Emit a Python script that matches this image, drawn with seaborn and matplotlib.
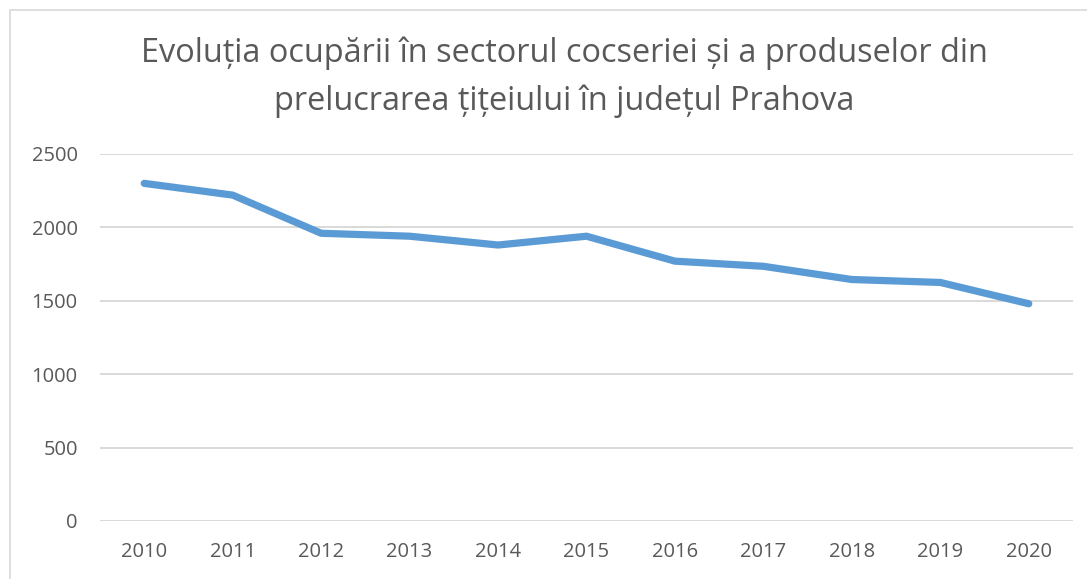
import pandas as pd
import numpy as np
from matplotlib import pyplot as plt
from matplotlib.patches import Rectangle
import seaborn as sns

# Date
ani = ['2010', '2011', '2012', '2013', '2014', '2015', '2016', '2017', '2018', '2019', '2020']
ocupati = [2300, 2220, 1960, 1940, 1880, 1940, 1770, 1735, 1645, 1625, 1480]
y_ticks = [0, 500, 1000, 1500, 2000, 2500]

df = pd.DataFrame({'An': ani, 'Ocupati': ocupati})

sns.set_style('white')
plt.rcParams['font.family'] = ['Open Sans', 'DejaVu Sans']
text_color = '#595959'

fig = plt.figure(figsize=(10.87, 5.79), dpi=100)
ax = fig.add_axes([100 / 1087, 1 - 521 / 579, 973 / 1087, 367 / 579])

sns.lineplot(x='An', y='Ocupati', data=df, ax=ax, color='#5B9BD5',
             linewidth=5.2, solid_capstyle='round', solid_joinstyle='round')

ax.set_xlim(-0.5, len(ani) - 0.5)
ax.set_ylim(0, 2500)
ax.set_yticks(y_ticks)
ax.yaxis.grid(True, color='#D9D9D9', linewidth=1.4)
ax.set_axisbelow(True)
for s in ax.spines.values():
    s.set_visible(False)
ax.tick_params(axis='both', length=0, labelsize=14.5, labelcolor=text_color)
ax.tick_params(axis='x', pad=15)
ax.tick_params(axis='y', pad=16)
ax.set_xlabel('')
ax.set_ylabel('')

fig.text(0.519, 1 - 53 / 579,
         'Evoluția ocupării în sectorul cocseriei și a produselor din',
         ha='center', va='center', fontsize=23.4, color=text_color)
fig.text(0.519, 1 - 101 / 579,
         'prelucrarea țițeiului în județul Prahova',
         ha='center', va='center', fontsize=23.4, color=text_color)

# chenarul zonei graficului
fig.patches.append(Rectangle((10 / 1087, -0.05), 1.0, 1 - 10 / 579 + 0.05,
                             transform=fig.transFigure, fill=False,
                             edgecolor='#D9D9D9', linewidth=1.2))

plt.savefig('out.png', dpi=100)
